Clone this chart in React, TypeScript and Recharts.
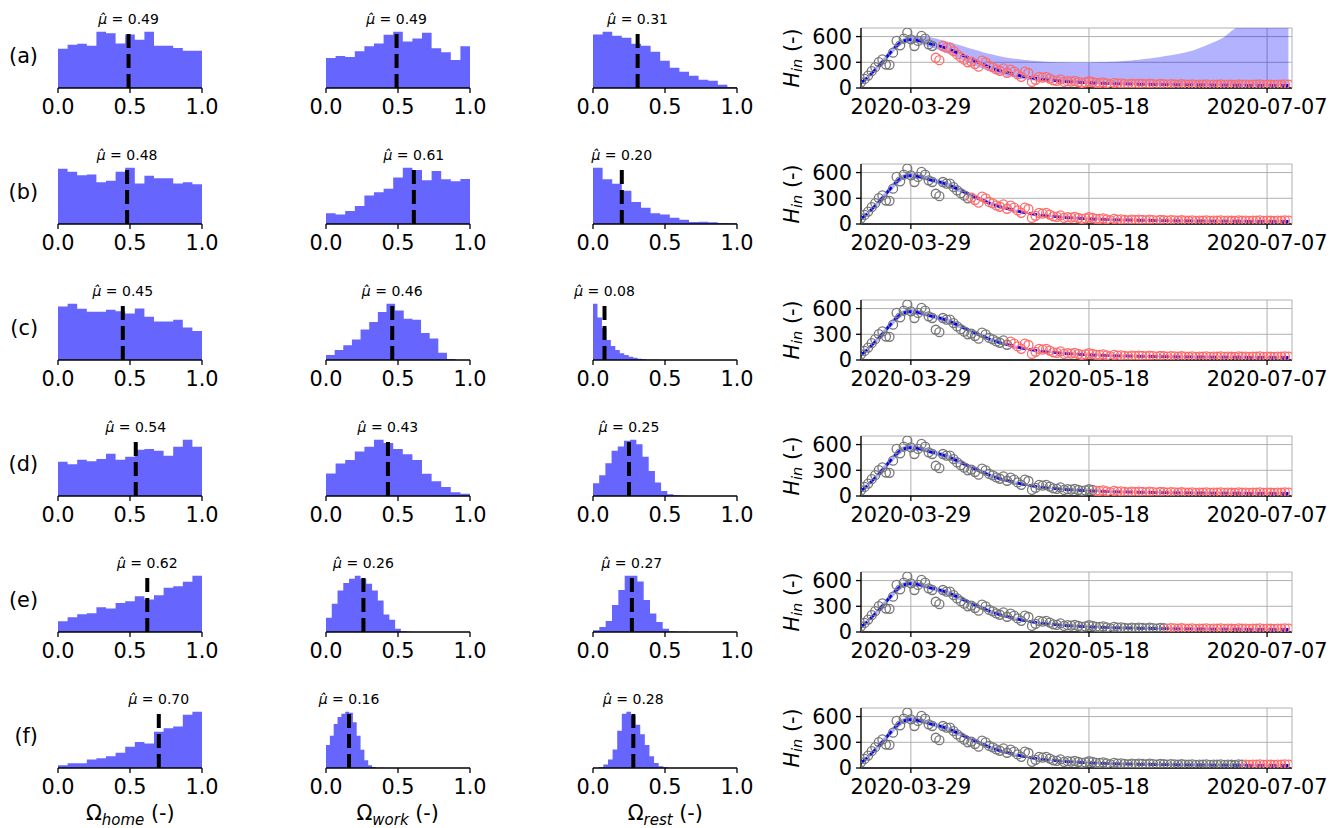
import React from 'react';
import {
  ComposedChart,
  Area,
  Line,
  XAxis,
  YAxis,
  CartesianGrid,
  ReferenceLine,
} from 'recharts';

const FONT = '"DejaVu Sans", sans-serif';

const rowLabels = ['(a)', '(b)', '(c)', '(d)', '(e)', '(f)'];

// histogram bar heights, 15 bins per panel, rows (a)-(f)
const homeHeights = [
  [118, 130, 133, 127, 169, 165, 134, 161, 145, 169, 127, 127, 120, 112, 112],
  [168, 159, 148, 151, 127, 132, 159, 171, 123, 147, 139, 139, 123, 127, 121],
  [160, 168, 153, 144, 144, 150, 146, 139, 154, 129, 115, 115, 120, 97, 87],
  [104, 96, 110, 105, 112, 128, 110, 119, 140, 142, 137, 122, 149, 170, 149],
  [32, 44, 53, 56, 74, 70, 87, 92, 107, 97, 110, 132, 137, 150, 168],
  [8, 14, 14, 25, 29, 35, 45, 63, 77, 73, 108, 118, 123, 158, 167],
];
const workHeights = [
  [31, 33, 32, 38, 43, 46, 55, 58, 48, 51, 57, 41, 37, 29, 43],
  [33, 29, 40, 55, 87, 97, 108, 142, 172, 165, 134, 162, 137, 131, 138],
  [15, 30, 45, 62, 92, 115, 145, 170, 150, 125, 122, 82, 65, 22, 3],
  [68, 98, 109, 135, 149, 170, 160, 142, 126, 109, 67, 45, 27, 11, 7],
  [43, 85, 125, 147, 160, 169, 160, 145, 125, 95, 53, 37, 10, 2, 1],
  [68, 95, 130, 151, 160, 166, 163, 135, 95, 54, 23, 8, 3, 1, 0.5],
];
const restHeights = [
  [161, 169, 157, 151, 133, 127, 109, 82, 61, 49, 37, 25, 22, 10, 3],
  [172, 137, 123, 102, 67, 50, 33, 29, 19, 13, 6, 7, 5, 3, 2],
  [168, 127, 95, 60, 42, 30, 20, 15, 10, 7, 4, 2, 1, 1, 0.5],
  [38, 62, 98, 135, 148, 165, 168, 155, 117, 75, 40, 15, 5, 2, 1],
  [5, 15, 33, 80, 125, 167, 167, 150, 95, 55, 30, 10, 2, 1, 1],
  [3, 10, 25, 55, 110, 160, 166, 155, 128, 100, 68, 35, 15, 5, 2],
];

// span [low, high] covered by the 15 bins
const homeRanges = [[0, 1], [0, 1], [0, 1], [0, 1], [0, 1], [0, 1]];
const workRanges = [[0, 1], [0, 1], [0, 0.9], [0, 1], [0, 0.6], [0, 0.4]];
const restRanges = [[0, 1], [0, 1], [0, 0.465], [0, 0.645], [0, 0.66], [0.04, 0.52]];

const homeMeans = [0.49, 0.48, 0.45, 0.54, 0.62, 0.7];
const workMeans = [0.49, 0.61, 0.46, 0.43, 0.26, 0.16];
const restMeans = [0.31, 0.2, 0.08, 0.25, 0.27, 0.28];

const histTicks = [0, 0.5, 1];

// time series, day 0 = 2020-03-15
const dateTicks = [14, 64, 114];
const dateTickLabels = ['2020-03-29', '2020-05-18', '2020-07-07'];
const hTicks = [0, 300, 600];

// observed hospital occupancy, one value per day (days 0..120)
const observed = [
  67, 106, 145, 196, 243, 302, 333, 274, 270, 412,
  549, 498, 576, 647, 568, 490, 549, 608, 576, 510,
  490, 353, 325, 490, 470, 470, 431, 392, 360, 330,
  300, 308, 280, 249, 320, 300, 257, 240, 217, 201,
  229, 178, 215, 190, 158, 130, 190, 175, 71, 95,
  130, 120, 130, 110, 90, 83, 100, 71, 80, 75,
  83, 70, 59, 65, 79, 70, 60, 59, 65, 55,
  43, 60, 51, 55, 48, 43, 50, 45, 52, 48,
  42, 50, 45, 40, 48, 44, 40, 46, 42, 38,
  44, 40, 38, 42, 36, 40, 38, 42, 36, 40,
  38, 42, 36, 40, 38, 35, 42, 38, 40, 36,
  40, 38, 42, 36, 40, 38, 36, 40, 38, 42, 40,
];

// model median and credible band, every second day (days 0,2,..,120)
const modelMedian = [
  60, 130, 215, 305, 400, 490, 550, 565, 555, 535,
  510, 490, 465, 430, 390, 355, 315, 280, 245, 215,
  190, 170, 150, 132, 118, 106, 96, 88, 80, 74,
  69, 64, 60, 57, 54, 51, 49, 47, 45, 43,
  42, 41, 40, 39, 38, 37, 36, 35, 35, 34,
  33, 33, 32, 32, 31, 31, 30, 30, 30, 29,
  29,
];
const narrowLow = [
  45, 110, 190, 275, 365, 455, 520, 535, 528, 510,
  485, 462, 438, 403, 365, 330, 292, 258, 225, 197,
  173, 154, 136, 119, 106, 95, 86, 78, 71, 65,
  60, 56, 52, 49, 46, 43, 41, 39, 37, 35,
  34, 33, 32, 31, 30, 29, 28, 27, 27, 26,
  25, 25, 24, 24, 23, 23, 22, 22, 22, 21,
  21,
];
const narrowHigh = [
  75, 150, 240, 335, 435, 525, 580, 595, 582, 560,
  535, 518, 492, 457, 415, 380, 338, 302, 265, 233,
  207, 186, 164, 145, 130, 117, 106, 98, 89, 83,
  78, 72, 68, 65, 62, 59, 57, 55, 53, 51,
  50, 49, 48, 47, 46, 45, 44, 43, 43, 42,
  41, 41, 40, 40, 39, 39, 38, 38, 38, 37,
  37,
];
const wideLow = [
  45, 110, 190, 275, 365, 455, 520, 530, 520, 500,
  470, 440, 405, 370, 332, 295, 260, 228, 198, 172,
  150, 130, 114, 100, 89, 80, 72, 66, 61, 56,
  52, 49, 46, 43, 41, 39, 37, 35, 34, 33,
  32, 31, 30, 29, 28, 27, 27, 26, 26, 25,
  25, 24, 24, 23, 23, 23, 22, 22, 22, 21,
  21,
];
const wideHigh = [
  75, 150, 240, 335, 435, 525, 580, 605, 610, 600,
  585, 565, 545, 520, 495, 470, 445, 420, 400, 380,
  362, 348, 337, 327, 319, 312, 307, 303, 300, 298,
  297, 297, 298, 300, 302, 305, 310, 316, 322, 330,
  340, 350, 362, 375, 390, 405, 425, 450, 480, 515,
  550, 595, 665, 720, 750, 770, 780, 790, 800, 800,
  800,
];

// first day shown as held-out (red) data in each row
const splitDay = [21, 31, 42, 66, 86, 108];

const colX = [58.3, 325.7, 593.3];
const colNames = ['home', 'work', 'rest'];
const rowBase = (r: number) => 88.3 + 136 * r;

const tickStyle = { fontSize: 20.8, fill: '#000', fontFamily: FONT };
const spine = { stroke: '#000', strokeWidth: 1.3 };

function meanLabel(mean: number) {
  return (props: any) => {
    const vb = props.viewBox || {};
    return (
      <text
        x={vb.x}
        y={vb.y - 5}
        textAnchor="middle"
        fontSize={14}
        fontFamily={FONT}
        fill="#000"
      >
        <tspan fontStyle="italic">{'\u03bc\u0302'}</tspan>
        <tspan> = {mean.toFixed(2)}</tspan>
      </text>
    );
  };
}

function Hist({ heights, range, mean, left, baseline }: any) {
  const [lo, hi] = range;
  const w = (hi - lo) / heights.length;
  const data = heights.map((h: number, i: number) => ({ x: lo + i * w, h }));
  data.push({ x: hi, h: heights[heights.length - 1] });
  const ymax = Math.max(...heights) * 1.05;

  return (
    <div style={{ position: 'absolute', left: left - 30, top: baseline - 59 - 30 }}>
      <ComposedChart
        width={204}
        height={129}
        data={data}
        margin={{ top: 30, right: 30, bottom: 0, left: 30 }}
      >
        <XAxis
          dataKey="x"
          type="number"
          domain={[0, 1]}
          ticks={histTicks}
          interval={0}
          tickFormatter={(v: number) => v.toFixed(1)}
          height={40}
          tick={tickStyle}
          tickSize={5}
          tickMargin={6}
          axisLine={spine}
          tickLine={spine}
          allowDataOverflow
        />
        <YAxis hide domain={[0, ymax]} />
        <Area
          dataKey="h"
          type="stepAfter"
          stroke="none"
          fill="#6666ff"
          fillOpacity={1}
          isAnimationActive={false}
        />
        <ReferenceLine
          x={mean}
          stroke="#000"
          strokeWidth={4}
          strokeDasharray="14 6"
          label={meanLabel(mean)}
        />
      </ComposedChart>
    </div>
  );
}

function Series({ row, baseline }: { row: number; baseline: number }) {
  const split = splitDay[row];
  const low = row === 0 ? wideLow : narrowLow;
  const high = row === 0 ? wideHigh : narrowHigh;
  const data = observed.map((v, day) => {
    const k = day % 2 === 0 ? day / 2 : -1;
    return {
      day,
      seen: day < split ? v : null,
      held: day >= split ? v : null,
      model: k >= 0 ? modelMedian[k] : null,
      band: k >= 0 ? [low[k], high[k]] : null,
    };
  });

  return (
    <>
      <div style={{ position: 'absolute', left: 860.7 - 90, top: baseline - 70 }}>
        <ComposedChart
          width={566}
          height={110}
          data={data}
          margin={{ top: 10, right: 45, bottom: 0, left: 10 }}
        >
          <CartesianGrid stroke="#b0b0b0" strokeWidth={1} />
          <XAxis
            dataKey="day"
            type="number"
            domain={[0, 121]}
            ticks={dateTicks}
            interval={0}
            tickFormatter={(v: number) => dateTickLabels[dateTicks.indexOf(v)]}
            height={40}
            tick={tickStyle}
            tickSize={5}
            tickMargin={6}
            axisLine={spine}
            tickLine={spine}
            allowDataOverflow
          />
          <YAxis
            type="number"
            domain={[0, 700]}
            ticks={hTicks}
            interval={0}
            width={80}
            tick={tickStyle}
            tickSize={5}
            tickMargin={4}
            axisLine={spine}
            tickLine={spine}
            allowDataOverflow
          />
          <Area
            dataKey="band"
            type="monotone"
            stroke="none"
            fill="#0000ff"
            fillOpacity={0.3}
            connectNulls
            isAnimationActive={false}
          />
          <Line
            dataKey="seen"
            stroke="none"
            dot={{ r: 4.5, stroke: '#777777', strokeWidth: 1.3, fill: 'none' }}
            isAnimationActive={false}
          />
          <Line
            dataKey="held"
            stroke="none"
            dot={{ r: 4.5, stroke: '#ff6b6b', strokeWidth: 1.3, fill: 'none' }}
            isAnimationActive={false}
          />
          <Line
            dataKey="model"
            type="monotone"
            stroke="#0000ff"
            strokeWidth={2.8}
            strokeDasharray="8 4"
            dot={false}
            connectNulls
            isAnimationActive={false}
          />
        </ComposedChart>
      </div>
      <svg
        style={{ position: 'absolute', left: 770, top: baseline - 60 }}
        width={45}
        height={60}
        overflow="visible"
      >
        <text
          transform="translate(22,30) rotate(-90)"
          textAnchor="middle"
          dominantBaseline="central"
          fontSize={20.8}
          fontFamily={FONT}
          fill="#000"
        >
          <tspan fontStyle="italic">H</tspan>
          <tspan fontStyle="italic" fontSize={14.5} dy={5}>in</tspan>
          <tspan dy={-5}> (-)</tspan>
        </text>
      </svg>
    </>
  );
}

export default function App() {
  const heights = [homeHeights, workHeights, restHeights];
  const ranges = [homeRanges, workRanges, restRanges];
  const means = [homeMeans, workMeans, restMeans];

  return (
    <div
      style={{
        position: 'absolute',
        left: 0,
        top: 0,
        width: 1341,
        height: 828,
        background: '#fff',
        fontFamily: FONT,
        overflow: 'hidden',
      }}
    >
      {rowLabels.map((lab, r) => (
        <div
          key={lab}
          style={{
            position: 'absolute',
            left: 0,
            width: 38,
            textAlign: 'right',
            top: rowBase(r) - 44,
            fontSize: 20.8,
            lineHeight: '24px',
          }}
        >
          {lab}
        </div>
      ))}

      {rowLabels.map((_, r) =>
        colX.map((x, c) => (
          <Hist
            key={`${r}-${c}`}
            heights={heights[c][r]}
            range={ranges[c][r]}
            mean={means[c][r]}
            left={x}
            baseline={rowBase(r)}
          />
        ))
      )}

      {rowLabels.map((_, r) => (
        <Series key={r} row={r} baseline={rowBase(r)} />
      ))}

      {colNames.map((name, c) => (
        <div
          key={name}
          style={{
            position: 'absolute',
            left: colX[c] + 72 - 100,
            width: 200,
            textAlign: 'center',
            top: 800,
            fontSize: 20.8,
            lineHeight: '26px',
          }}
        >
          {'\u03a9'}
          <sub style={{ fontStyle: 'italic', fontSize: 15 }}>{name}</sub> (-)
        </div>
      ))}
    </div>
  );
}
